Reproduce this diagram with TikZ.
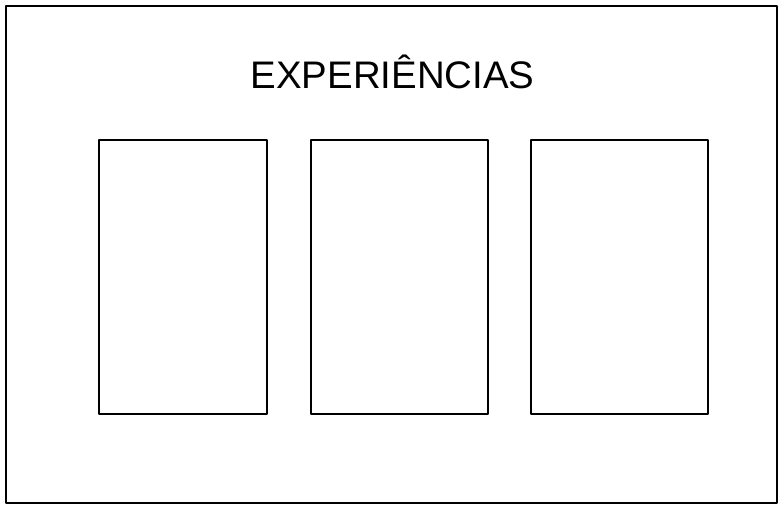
\documentclass[tikz,border=0pt]{standalone}
\usepackage{fontspec}
\setmainfont{Liberation Sans}
\begin{document}
\begin{tikzpicture}[x=1pt,y=1pt]
  \tikzstyle{frame}=[draw,line width=1.8pt,line join=round]
  \tikzstyle{card}=[draw,line width=1.7pt,line join=round,inner sep=0pt]
  \useasboundingbox (0,0) rectangle (784,512);
  \node[frame,minimum width=771,minimum height=497,inner sep=0pt] (page) at (391.5,257.5) {};
  \node[font=\fontsize{38.4}{42}\selectfont,anchor=base] (title) at (392.5,423) {EXPERIÊNCIAS};
  \node[card,minimum width=168,minimum height=274] (exp1) at (183,235) {};
  \node[card,minimum width=177,minimum height=274] (exp2) at (399.5,235) {};
  \node[card,minimum width=177,minimum height=274] (exp3) at (619.5,235) {};
\end{tikzpicture}
\end{document}
